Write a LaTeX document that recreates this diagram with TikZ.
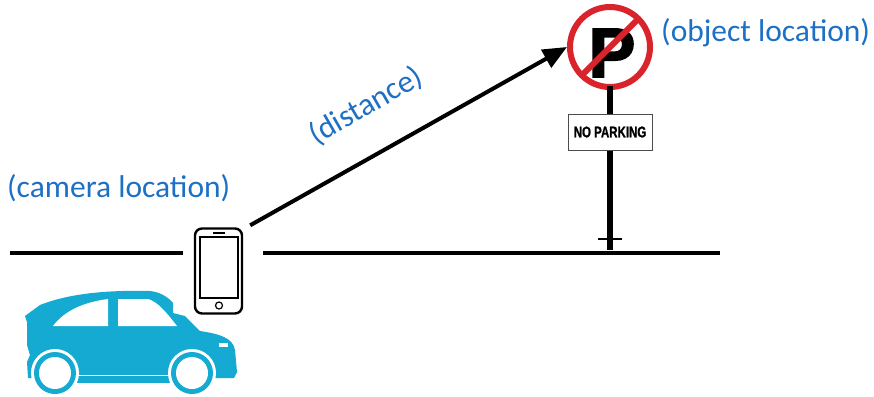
\documentclass[tikz,border=0pt]{standalone}
\usepackage{fontspec}
\setmainfont{Carlito}
\newfontfamily\signfont[FakeBold=2.5]{Liberation Sans Bold}
\newfontfamily\platefont[FakeBold=1.2]{Liberation Sans Bold}
\usetikzlibrary{arrows.meta,calc}
\definecolor{labelblue}{RGB}{30,112,196}
\definecolor{carblue}{RGB}{20,170,210}
\definecolor{signred}{RGB}{218,36,44}
\tikzset{
  label text/.style={text=labelblue, font=\fontsize{31.5}{34}\selectfont, inner sep=0pt},
  road/.style={line width=4pt, black},
  pointer/.style={line width=4pt, black, -{Triangle[length=24pt,width=20pt]}},
  phone body/.style={draw, line width=2.4pt, rounded corners=7pt},
  phone part/.style={draw, line width=1.4pt},
}
\begin{document}
\begin{tikzpicture}[x=1pt,y=-1pt]
\useasboundingbox (0,0) rectangle (874,396);
\fill[white] (0,0) rectangle (874,396);

% road
\coordinate (roadL1) at (10,253);
\coordinate (roadL2) at (183,253);
\coordinate (roadR1) at (263,253);
\coordinate (roadR2) at (720,253);
\draw[road] (roadL1) -- (roadL2);
\draw[road] (roadR1) -- (roadR2);

% car
\fill[carblue] (27,322) -- (25,316) -- (40,305)
  .. controls (70,293) and (110,290) .. (150,291)
  .. controls (160,292) and (168,297) .. (173,303)
  -- (173,313) -- (185,316) -- (200,331)
  .. controls (220,334) and (233,338) .. (235,350)
  -- (237,372) -- (234,378) -- (28,378) -- (27,362) -- (30,355) -- (27,345) -- cycle;
\fill[white] (53,326) .. controls (65,310) and (85,302) .. (108,299) -- (108,326) -- cycle;
\fill[white] (118,299) -- (148,299) .. controls (158,302) and (166,312) .. (177,326) -- (118,326) -- cycle;
\fill[white] (219,343) rectangle (228,347);
\fill[carblue] (76,376) rectangle (172,383);
\draw[white, line width=1.2pt] (76,375.5) -- (172,375.5);
\foreach \cx in {55,192} {
  \fill[white] (\cx,373) circle (24);
  \fill[carblue] (\cx,373) circle (21);
  \fill[white] (\cx,373) circle (16);
}

% phone
\node[phone body, minimum width=47pt, minimum height=85pt, inner sep=0pt] (phone) at (218.5,271) {};
\draw[phone part] (200,237) rectangle (238,298);
\draw[phone part] (213,233) -- (225,233);
\draw[phone part, line width=1.2pt] (219,305.5) circle (3.5);

% sign
\node[circle, draw=signred, line width=6pt, minimum size=80pt, inner sep=0pt] (sign) at (610,47) {};
\fill[black] (607,86) rectangle (613,114);
\fill[black] (607,150) rectangle (613,250);
\draw[black, line width=2.2pt] (598,239) -- (622,239);
\node[draw=black!70, line width=0.8pt, minimum width=84pt, minimum height=36pt, inner sep=0pt, fill=white] (plate) at (610,132)
  {\platefont\fontsize{15.5}{16}\selectfont\scalebox{0.74}[1]{NO PARKING}};
\node[inner sep=0pt, font=\signfont\fontsize{70}{70}\selectfont] (pletter) at (612,53) {P};
\draw[signred, line width=6pt] ($(sign.center)+(-28,28)$) -- ($(sign.center)+(28,-28)$);

% pointer
\coordinate (start) at (phone.north east);
\draw[pointer] ([shift={(7,-2)}]start) -- (sign.west);

% labels
\node[label text, anchor=west] (camlab) at (7,188) {(camera location)};
\node[label text, anchor=west] (objlab) at (661,33) {(object location)};
\node[label text, rotate=30] (distlab) at (366,106) {(distance)};
\end{tikzpicture}
\end{document}
